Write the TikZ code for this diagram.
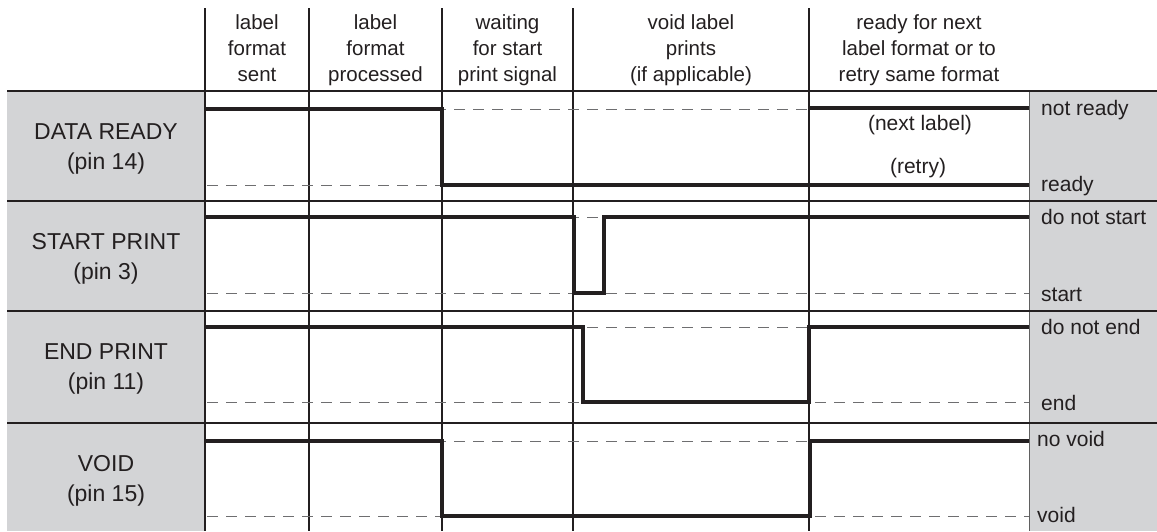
\documentclass[tikz,border=0pt]{standalone}
\usepackage{fontspec}
\setmainfont{Liberation Sans}
\definecolor{boxgray}{RGB}{211,212,214}
\definecolor{ink}{RGB}{35,31,32}
\definecolor{dashgray}{RGB}{110,110,112}
\begin{document}
\begin{tikzpicture}[x=1pt,y=-1pt,
  hdr/.style={font=\fontsize{20.5}{25}\selectfont, inner sep=0pt, anchor=base, text=ink},
  rowlbl/.style={font=\fontsize{23}{28}\selectfont, inner sep=0pt, anchor=base, text=ink},
  lvl/.style={font=\fontsize{21}{25}\selectfont, inner sep=0pt, anchor=base west, text=ink},
  note/.style={font=\fontsize{21}{25}\selectfont, inner sep=0pt, anchor=center, text=ink},
  gridline/.style={draw=ink, line width=1.1pt},
  sepline/.style={draw=ink, line width=1.6pt},
  levelline/.style={draw=dashgray, line width=0.9pt, dash pattern=on 11pt off 8pt},
  sig/.style={draw=ink, line width=4pt, line join=miter, line cap=butt}]
\useasboundingbox (0,0) rectangle (1157,531);
% gray label boxes
\fill[boxgray] (7,91) rectangle (205,531);
\fill[boxgray] (1029,91) rectangle (1157,531);
% column lines
\foreach \x in {205,309,442,573,809} \draw[gridline] (\x,8) -- (\x,531);
\draw[draw=gray!75!black, line width=1pt] (1029,91) -- (1029,531);
% row separators
\foreach \y in {91,201,311,423} \draw[sepline] (7,\y) -- (1157,\y);

% level reference lines (dashed)
\foreach \y in {109,185,217,293,327,402,441,516}
  \draw[levelline] (207,\y) -- (1029,\y);

% header texts
\node[hdr] (h1a) at (257,29) {label};
\node[hdr] (h1b) at (257,55) {format};
\node[hdr] (h1c) at (257,81) {sent};
\node[hdr] (h2a) at (375.5,29) {label};
\node[hdr] (h2b) at (375.5,55) {format};
\node[hdr] (h2c) at (375.5,81) {processed};
\node[hdr] (h3a) at (507.5,29) {waiting};
\node[hdr] (h3b) at (507.5,55) {for start};
\node[hdr] (h3c) at (507.5,81) {print signal};
\node[hdr] (h4a) at (691,29) {void label};
\node[hdr] (h4b) at (691,55) {prints};
\node[hdr] (h4c) at (691,81) {(if applicable)};
\node[hdr] (h5a) at (919,29) {ready for next};
\node[hdr] (h5b) at (919,55) {label format or to};
\node[hdr] (h5c) at (919,81) {retry same format};

% row labels
\node[rowlbl] (r1a) at (106,139) {DATA READY};
\node[rowlbl] (r1b) at (106,169) {(pin 14)};
\node[rowlbl] (r2a) at (106,249) {START PRINT};
\node[rowlbl] (r2b) at (106,279) {(pin 3)};
\node[rowlbl] (r3a) at (106,359) {END PRINT};
\node[rowlbl] (r3b) at (106,389) {(pin 11)};
\node[rowlbl] (r4a) at (106,471) {VOID};
\node[rowlbl] (r4b) at (106,501) {(pin 15)};

% signals
\draw[sig] (205,109) -| (442,185) -- (1029,185);
\draw[sig] (809,108) -- (1029,108);
\draw[sig] (205,217) -| (574,293) -| (604,217) -- (1029,217);
\draw[sig] (205,327) -| (583,402) -| (809,327) -- (1029,327);
\draw[sig] (205,441) -| (442,516) -| (810,441) -- (1029,441);

% annotations
\node[note] (nl) at (920,125) {(next label)};
\node[note] (rt) at (918,168) {(retry)};

% level names
\node[lvl] (l1a) at (1041,115) {not ready};
\node[lvl] (l1b) at (1041,191) {ready};
\node[lvl] (l2a) at (1041,224) {do not start};
\node[lvl] (l2b) at (1041,301) {start};
\node[lvl] (l3a) at (1041,334) {do not end};
\node[lvl] (l3b) at (1041,410) {end};
\node[lvl] (l4a) at (1037,446) {no void};
\node[lvl] (l4b) at (1037,522) {void};
\end{tikzpicture}
\end{document}
